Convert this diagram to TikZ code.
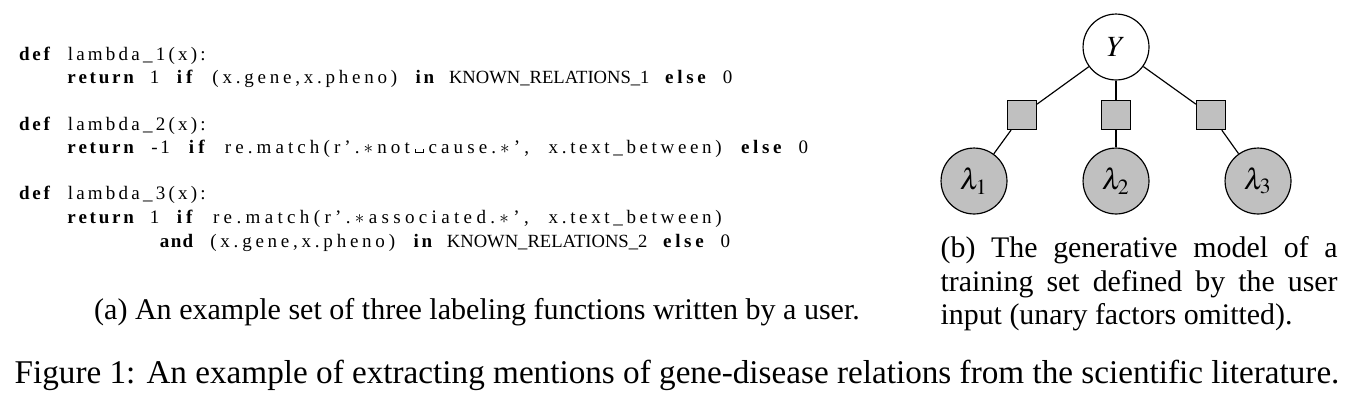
\documentclass[tikz,border=0pt]{standalone}
\usepackage{mathptmx}
\usepackage[no-math]{fontspec}
\setmainfont{Liberation Serif}
\usetikzlibrary{positioning}
\definecolor{fc}{RGB}{192, 192, 192}
\newdimen\cw \cw=4.1pt
\makeatletter
\newcommand{\fx}[1]{\count@=0 \@tfor\cc:=#1\do{\advance\count@ by 1}%
  \hbox to \number\count@\cw{\hss\@tfor\cc:=#1\do{\cc\hss}}}
\makeatother
\newcommand{\fxb}[1]{{\bfseries\fx{#1}}}
\newcommand{\csp}{\kern\cw}
\newcommand{\visp}{\kern0.05em\rule{0.04em}{0.22em}\rule{0.38em}{0.04em}\rule{0.04em}{0.22em}\kern0.05em}
\newcommand{\plain}[1]{{\fontsize{6.35}{7.8}\selectfont#1}}

\begin{document}
\begin{tikzpicture}[x=0.3413pt, y=-0.3413pt,
  code/.style={anchor=base west, inner sep=0pt, font=\fontsize{6.5}{7.8}\selectfont},
  var/.style={circle, minimum size=22.5pt, inner sep=0pt, draw=black, fill=white},
  obs/.style={var, fill=fc},
  factor/.style={rectangle, minimum size=9.9pt, inner sep=0pt, draw=black, fill=fc}]
\useasboundingbox (0,0) rectangle (1356,409);
\node (l1) [code] at (16, 60) {\fxb{def}\csp\fx{lambda\_1(x):}};
\node (l2) [code] at (64, 83) {\fxb{return}\csp\fx{1}\csp\fxb{if}\csp\fx{(x.gene,x.pheno)}\csp\fxb{in}\csp\plain{KNOWN\_RELATIONS\_1}\csp\fxb{else}\csp\fx{0}};
\node (l3) [code] at (16, 130) {\fxb{def}\csp\fx{lambda\_2(x):}};
\node (l4) [code] at (64, 153) {\fxb{return}\csp\fx{-1}\csp\fxb{if}\csp\fx{re.match(r'.{$\ast$}not{\visp}cause.{$\ast$}',}\csp\fx{x.text\_between)}\csp\fxb{else}\csp\fx{0}};
\node (l5) [code] at (16, 199) {\fxb{def}\csp\fx{lambda\_3(x):}};
\node (l6) [code] at (64, 223) {\fxb{return}\csp\fx{1}\csp\fxb{if}\csp\fx{re.match(r'.{$\ast$}associated.{$\ast$}',}\csp\fx{x.text\_between)}};
\node (l7) [code] at (158, 247) {\fxb{and}\csp\fx{(x.gene,x.pheno)}\csp\fxb{in}\csp\plain{KNOWN\_RELATIONS\_2}\csp\fxb{else}\csp\fx{0}};
\node (capa) [anchor=base, font=\fontsize{10.25}{12}\selectfont] at (477, 319) {(a) An example set of three labeling functions written by a user.};
\node (Y) [var] at (1116, 47) {$Y$};
\node (f1) [factor] at (1022, 115) {};
\node (f2) [factor] at (1116, 115) {};
\node (f3) [factor] at (1211, 115) {};
\node (lam1) [obs] at (974, 181) {$\lambda_1$};
\node (lam2) [obs] at (1116, 181) {$\lambda_2$};
\node (lam3) [obs] at (1258, 181) {$\lambda_3$};
\draw (Y) -- (f1);
\draw (Y) -- (f2);
\draw (Y) -- (f3);
\draw (f1) -- (lam1);
\draw (f2) -- (lam2);
\draw (f3) -- (lam3);
\node (capb) [anchor=north west, inner sep=0pt, text width=135.5pt, align=justify, font=\fontsize{10.2}{11.4}\selectfont] at (940, 236) {(b) The generative model of a\linebreak training set defined by the user\linebreak input (unary factors omitted).};
\node (fig) [anchor=base, font=\fontsize{11.33}{13.6}\selectfont] at (677, 383) {Figure 1: An example of extracting mentions of gene-disease relations from the scientific literature.};
\end{tikzpicture}
\end{document}
